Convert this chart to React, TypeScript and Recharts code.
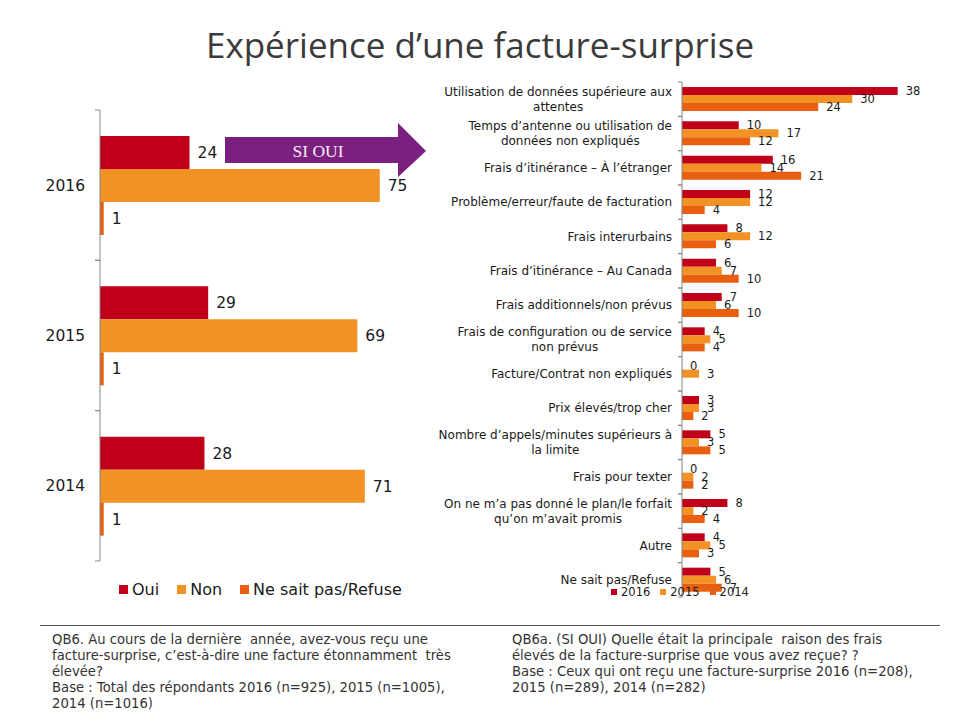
import React from 'react';
import { BarChart, Bar, XAxis, YAxis, LabelList } from 'recharts';

// Left chart: experience of a surprise bill
const years = ['2016', '2015', '2014'];
const oui = [24, 29, 28];
const non = [75, 69, 71];
const nsp = [1, 1, 1];

// Right chart: main reason (if yes)
const reasons = [
    'Utilisation de données supérieure aux\nattentes',
    'Temps d’antenne ou utilisation de\ndonnées non expliqués',
    'Frais d’itinérance – À l’étranger',
    'Problème/erreur/faute de facturation',
    'Frais interurbains',
    'Frais d’itinérance – Au Canada',
    'Frais additionnels/non prévus',
    'Frais de configuration ou de service\nnon prévus',
    'Facture/Contrat non expliqués',
    'Prix élevés/trop cher',
    'Nombre d’appels/minutes supérieurs à\nla limite',
    'Frais pour texter',
    'On ne m’a pas donné le plan/le forfait\nqu’on m’avait promis',
    'Autre',
    'Ne sait pas/Refuse',
];
const v2016 = [38, 10, 16, 12, 8, 6, 7, 4, 0, 3, 5, 0, 8, 4, 5];
const v2015 = [30, 17, 14, 12, 12, 7, 6, 5, 3, 3, 3, 2, 2, 5, 6];
const v2014 = [24, 12, 21, 4, 6, 10, 10, 4, null, 2, 5, 2, 4, 3, 7];

const leftSeries = [
    { key: 'oui', name: 'Oui', color: '#C00018' },
    { key: 'non', name: 'Non', color: '#F39224' },
    { key: 'nsp', name: 'Ne sait pas/Refuse', color: '#E8600F' },
];
const rightSeries = [
    { key: 'y2016', name: '2016', color: '#C00018' },
    { key: 'y2015', name: '2015', color: '#F39224' },
    { key: 'y2014', name: '2014', color: '#E8600F' },
];

const leftData = years.map((y, i) => ({ year: y, oui: oui[i], non: non[i], nsp: nsp[i] }));
const rightData = reasons.map((r, i) => ({ reason: r, y2016: v2016[i], y2015: v2015[i], y2014: v2014[i] }));

const FONT = '"DejaVu Sans", Verdana, sans-serif';
const AXIS = '#868686';
const TEXT = '#1a1a1a';

const LEFT_BAND = 451 / years.length;
const RIGHT_BAND = 515 / reasons.length;

let measureCtx: CanvasRenderingContext2D | null = null;
function textWidth(s: string, font: string) {
    if (!measureCtx) measureCtx = document.createElement('canvas').getContext('2d');
    if (!measureCtx) return s.length * 6;
    measureCtx.font = font;
    return measureCtx.measureText(s).width;
}

const LeftTick = ({ x, y, payload }: any) => (
    <g>
        <line x1={x - 5} x2={x} y1={y - LEFT_BAND / 2} y2={y - LEFT_BAND / 2} stroke={AXIS} />
        <line x1={x - 5} x2={x} y1={y + LEFT_BAND / 2} y2={y + LEFT_BAND / 2} stroke={AXIS} />
        <text x={x - 15} y={y} dy="0.35em" textAnchor="end" fontSize={15.5} fill={TEXT} fontFamily={FONT}>
            {payload.value}
        </text>
    </g>
);

const RightTick = ({ x, y, payload }: any) => {
    const lines = String(payload.value).split('\n');
    const font = `12px ${FONT}`;
    const maxW = Math.max(...lines.map(l => textWidth(l, font)));
    const right = x - 10;
    const lh = 14.5;
    return (
        <g>
            <line x1={x - 4} x2={x} y1={y - RIGHT_BAND / 2} y2={y - RIGHT_BAND / 2} stroke={AXIS} />
            <line x1={x - 4} x2={x} y1={y + RIGHT_BAND / 2} y2={y + RIGHT_BAND / 2} stroke={AXIS} />
            {lines.map((l, i) => (
                <text
                    key={i}
                    x={lines.length > 1 ? right - maxW / 2 : right}
                    y={y + (i - (lines.length - 1) / 2) * lh}
                    dy="0.35em"
                    textAnchor={lines.length > 1 ? 'middle' : 'end'}
                    fontSize={12}
                    fill={TEXT}
                    fontFamily={FONT}
                >
                    {l}
                </text>
            ))}
        </g>
    );
};

const SimpleLegend = ({ items, style, fontSize, icon, gap }: any) => (
    <div style={{ position: 'absolute', display: 'flex', alignItems: 'center', fontFamily: FONT, fontSize, color: TEXT, ...style }}>
        {items.map((s: any) => (
            <div key={s.key} style={{ display: 'flex', alignItems: 'center', marginRight: gap }}>
                <span style={{ display: 'inline-block', width: icon, height: icon, background: s.color, marginRight: 4 }} />
                <span>{s.name}</span>
            </div>
        ))}
    </div>
);

// zero values still get a (hairline) bar so that their "0" label is drawn
const zeroSize = (v: any) => (v === 0 ? 0.1 : 0);

const noteStyle: React.CSSProperties = {
    position: 'absolute', top: 632, fontFamily: FONT, fontSize: 13.2, lineHeight: '16px', color: '#333', whiteSpace: 'pre',
};

export default function App() {
    return (
        <div style={{ position: 'absolute', left: 0, top: 0, width: 960, height: 720, background: '#fff', overflow: 'hidden' }}>
            <div style={{ position: 'absolute', left: 0, top: 20, width: 960, textAlign: 'center', fontFamily: '"Open Sans", sans-serif', fontSize: 35, lineHeight: '50px', color: '#3a3a3a' }}>
                Expérience d’une facture-surprise
            </div>

            <div style={{ position: 'absolute', left: 0, top: 0 }}>
                <BarChart width={480} height={620} data={leftData} layout="vertical" barGap={0} barSize={33}
                    margin={{ top: 110, right: 7, bottom: 59, left: 0 }}>
                    <XAxis type="number" domain={[0, 100]} hide />
                    <YAxis type="category" dataKey="year" width={100} axisLine={{ stroke: AXIS }} tickLine={false}
                        tickSize={0} tickMargin={0} tick={<LeftTick />} />
                    {leftSeries.map(s => (
                        <Bar key={s.key} dataKey={s.key} name={s.name} fill={s.color} isAnimationActive={false}>
                            <LabelList dataKey={s.key} position="right" offset={8} fontSize={15.5} fill={TEXT} fontFamily={FONT} />
                        </Bar>
                    ))}
                </BarChart>
            </div>

            <div style={{ position: 'absolute', left: 420, top: 0 }}>
                <BarChart width={540} height={620} data={rightData} layout="vertical" barGap={0} barSize={8}
                    margin={{ top: 82, right: 51, bottom: 23, left: 0 }}>
                    <XAxis type="number" domain={[0, 40]} hide />
                    <YAxis type="category" dataKey="reason" width={262} axisLine={{ stroke: AXIS }} tickLine={false}
                        tickSize={0} tickMargin={0} tick={<RightTick />} interval={0} />
                    {rightSeries.map(s => (
                        <Bar key={s.key} dataKey={s.key} name={s.name} fill={s.color} minPointSize={zeroSize} isAnimationActive={false}>
                            <LabelList dataKey={s.key} position="right" offset={8} fontSize={11.5} fill={TEXT} fontFamily={FONT} />
                        </Bar>
                    ))}
                </BarChart>
            </div>

            <svg style={{ position: 'absolute', left: 0, top: 0 }} width={960} height={200}>
                <polygon points="225,137 398,137 398,123 426,151 398,177 398,163 225,163" fill="#7A2180" />
                <text x={318} y={151} dy="0.35em" textAnchor="middle" fill="#fbe9f5" fontSize={17.5} fontFamily='"Liberation Serif", serif'>
                    SI OUI
                </text>
            </svg>

            <SimpleLegend items={leftSeries} fontSize={16} icon={9} gap={18} style={{ left: 119, top: 580 }} />
            <SimpleLegend items={rightSeries} fontSize={11.5} icon={6} gap={10} style={{ left: 611, top: 585 }} />

            <div style={{ position: 'absolute', left: 40, top: 625, width: 900, borderTop: '1px solid #555' }} />
            <div style={{ ...noteStyle, left: 52 }}>
                {'QB6. Au cours de la dernière  année, avez-vous reçu une\nfacture-surprise, c’est-à-dire une facture étonnamment  très\nélevée?\nBase : Total des répondants 2016 (n=925), 2015 (n=1005),\n2014 (n=1016)'}
            </div>
            <div style={{ ...noteStyle, left: 512 }}>
                {'QB6a. (SI OUI) Quelle était la principale  raison des frais\nélevés de la facture-surprise que vous avez reçue? ?\nBase : Ceux qui ont reçu une facture-surprise 2016 (n=208),\n2015 (n=289), 2014 (n=282)'}
            </div>
        </div>
    );
}
